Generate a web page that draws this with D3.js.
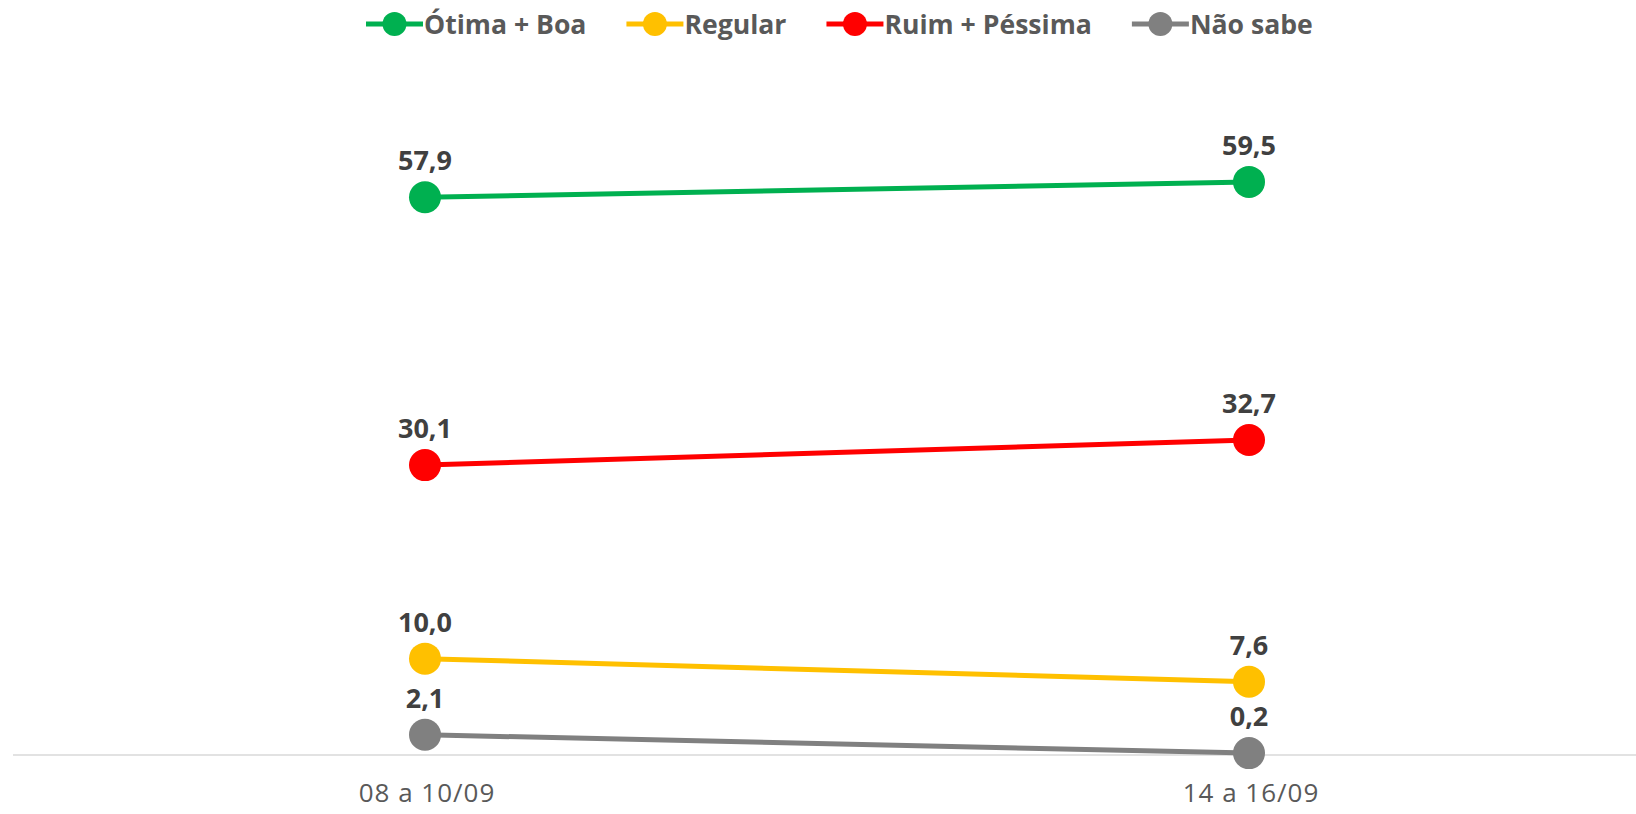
<!DOCTYPE html>
<html>
<head>
<meta charset="utf-8">
<script src="https://cdn.jsdelivr.net/npm/d3@7"></script>
<style>
  body { margin: 0; background: #fff; }
  text { font-family: "Open Sans", sans-serif; }
</style>
</head>
<body>
<div id="myChart"></div>
<script>
let width = 1636
let height = 814

const periods = ["08 a 10/09", "14 a 16/09"]
const seriesNames = ["Ótima + Boa", "Regular", "Ruim + Péssima", "Não sabe"]
const seriesColors = ["#00b050", "#ffc000", "#ff0000", "#808080"]
const otimaBoa = [57.9, 59.5]
const regular = [10.0, 7.6]
const ruimPessima = [30.1, 32.7]
const naoSabe = [2.1, 0.2]

const allValues = [otimaBoa, regular, ruimPessima, naoSabe]

let svg = d3.select("#myChart")
  .append("svg")
  .attr("width", width)
  .attr("height", height)

let x = d3.scalePoint()
  .domain(periods)
  .range([13, 1661])
  .padding(0.5)

let y = d3.scaleLinear()
  .domain([0, 70])
  .range([755, 755 - 70 * 9.632])

// baseline axis
svg.append("line")
  .attr("x1", 13)
  .attr("x2", width)
  .attr("y1", y(0))
  .attr("y2", y(0))
  .attr("stroke", "#d9d9d9")
  .attr("stroke-width", 1.5)

// category labels
svg.selectAll(".cat")
  .data(periods)
  .enter().append("text")
  .attr("class", "cat")
  .attr("x", d => x(d) + 2)
  .attr("y", 802)
  .attr("text-anchor", "middle")
  .attr("fill", "#595959")
  .style("font-size", "26px")
  .style("letter-spacing", "1px")
  .text(d => d)

let line = d3.line()
  .x((d, i) => x(periods[i]))
  .y(d => y(d))

// draw order: grey first so the others sit above
let order = [3, 1, 2, 0]
order.forEach(k => {
  let vals = allValues[k]
  let g = svg.append("g")

  g.append("path")
    .attr("d", line(vals))
    .attr("fill", "none")
    .attr("stroke", seriesColors[k])
    .attr("stroke-width", 5)

  g.selectAll("circle")
    .data(vals)
    .enter().append("circle")
    .attr("cx", (d, i) => x(periods[i]))
    .attr("cy", d => y(d))
    .attr("r", 16)
    .attr("fill", seriesColors[k])

  g.selectAll("text")
    .data(vals)
    .enter().append("text")
    .attr("x", (d, i) => x(periods[i]))
    .attr("y", d => y(d) - 27)
    .attr("text-anchor", "middle")
    .attr("fill", "#404040")
    .style("font-size", "27px")
    .style("font-weight", "bold")
    .text(d => d.toFixed(1).replace(".", ","))
})

// legend
let legend = svg.append("g")
let lx = 366
seriesNames.forEach((name, k) => {
  let item = legend.append("g").attr("transform", `translate(${lx},24)`)
  item.append("line")
    .attr("x1", 0)
    .attr("x2", 57)
    .attr("stroke", seriesColors[k])
    .attr("stroke-width", 5)
  item.append("circle")
    .attr("cx", 28.5)
    .attr("r", 12)
    .attr("fill", seriesColors[k])
  let t = item.append("text")
    .attr("x", 58)
    .attr("y", 10)
    .attr("fill", "#595959")
    .style("font-size", "26.6px")
    .style("font-weight", "bold")
    .text(name)
  lx += 58 + t.node().getComputedTextLength() + 40
})
</script>
</body>
</html>
